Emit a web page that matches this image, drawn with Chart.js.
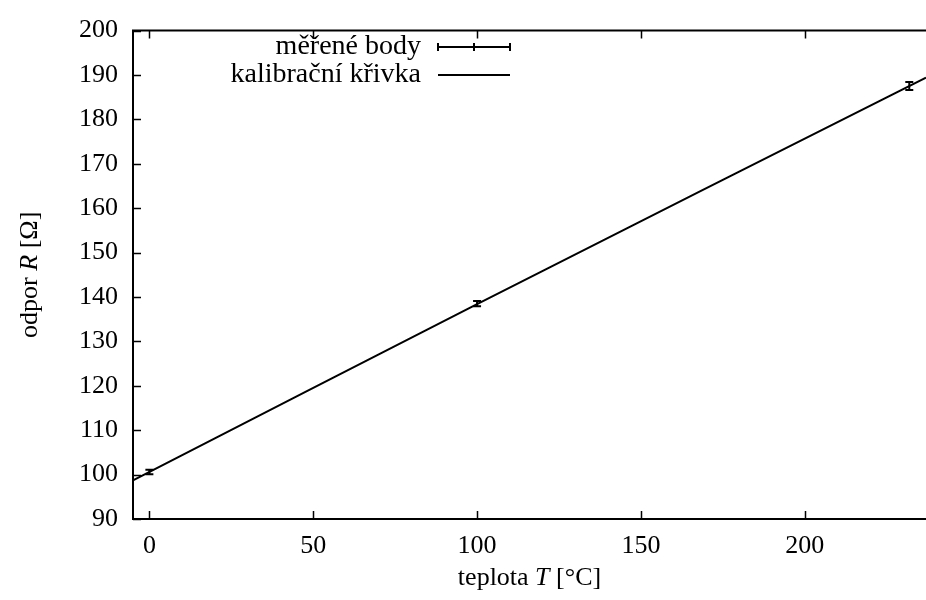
<!DOCTYPE html>
<html>
<head>
<meta charset="utf-8">
<script src="https://cdn.jsdelivr.net/npm/chart.js@4"></script>
<style>
  body { margin: 0; background: #fff; }
  #wrap { width: 926px; height: 600px; }
</style>
</head>
<body>
<div id="wrap"><canvas id="chart" width="926" height="600"></canvas></div>
<script>
// measured points (T in °C, R in ohm) and y error
const tempC = [0, 100, 231.9];
const resistance = [100.6, 138.5, 187.5];
const resistanceErr = [0.5, 0.6, 0.9];

// calibration curve
const fitT = [-5, 100, 237];
const fitR = [98.7, 138.4, 189.4];

const xTicks = [0, 50, 100, 150, 200];
const yTicks = [90, 100, 110, 120, 130, 140, 150, 160, 170, 180, 190, 200];

const legendLabels = ["měřené body", "kalibrační křivka"];
// axis titles as [text, italic] pieces
const xTitle = [["teplota ", false], ["T", true], [" [°C]", false]];
const yTitle = [["odpor ", false], ["R", true], [" [Ω]", false]];

const FONT = "'Liberation Serif', 'DejaVu Serif', serif";
const INK = "#000";
const SIZE = 26;

function drawPieces(ctx, pieces, cx, cy) {
    const fonts = pieces.map(p => (p[1] ? "italic " : "") + SIZE + "px " + FONT);
    let total = 0;
    const widths = pieces.map((p, i) => { ctx.font = fonts[i]; const w = ctx.measureText(p[0]).width; total += w; return w; });
    let x = cx - total / 2;
    ctx.textAlign = "left";
    ctx.textBaseline = "middle";
    pieces.forEach((p, i) => { ctx.font = fonts[i]; ctx.fillText(p[0], x, cy); x += widths[i]; });
}

// frame, inward ticks, error bars, legend, axis titles
const gnuplotLook = {
    id: "gnuplotLook",
    afterDatasetsDraw(chart) {
        const ctx = chart.ctx;
        const a = chart.chartArea;
        const xs = chart.scales.x;
        const ys = chart.scales.y;
        ctx.save();
        ctx.strokeStyle = INK;
        ctx.fillStyle = INK;

        // ticks (right side lies outside the picture)
        const tl = 8;
        ctx.beginPath();
        xTicks.forEach(v => {
            const px = Math.round(xs.getPixelForValue(v)) + 0.5;
            ctx.moveTo(px, a.bottom); ctx.lineTo(px, a.bottom - tl);
            ctx.moveTo(px, a.top); ctx.lineTo(px, a.top + tl);
        });
        yTicks.forEach(v => {
            const py = Math.round(ys.getPixelForValue(v)) + 0.5;
            ctx.moveTo(a.left, py); ctx.lineTo(a.left + tl, py);
        });
        ctx.lineWidth = 1.5;
        ctx.stroke();

        // frame: left, bottom, top
        ctx.lineWidth = 2;
        ctx.beginPath();
        ctx.moveTo(a.right + 2, a.top);
        ctx.lineTo(a.left, a.top);
        ctx.lineTo(a.left, a.bottom);
        ctx.lineTo(a.right + 2, a.bottom);
        ctx.stroke();

        // error bars
        ctx.beginPath();
        tempC.forEach((t, i) => {
            const px = xs.getPixelForValue(t);
            const y1 = ys.getPixelForValue(resistance[i] - resistanceErr[i]);
            const y2 = ys.getPixelForValue(resistance[i] + resistanceErr[i]);
            ctx.moveTo(px, y1); ctx.lineTo(px, y2);
            ctx.moveTo(px - 4, y1); ctx.lineTo(px + 4, y1);
            ctx.moveTo(px - 4, y2); ctx.lineTo(px + 4, y2);
        });
        ctx.stroke();

        // legend
        ctx.font = "28px " + FONT;
        ctx.textAlign = "right";
        ctx.textBaseline = "middle";
        const rows = [47, 75];
        const textRight = 421, s0 = 438, s1 = 510;
        legendLabels.forEach((lab, i) => ctx.fillText(lab, textRight, rows[i]));
        ctx.beginPath();
        ctx.moveTo(s0, rows[0]); ctx.lineTo(s1, rows[0]);
        ctx.moveTo(s0, rows[0] - 4); ctx.lineTo(s0, rows[0] + 4);
        ctx.moveTo(s1, rows[0] - 4); ctx.lineTo(s1, rows[0] + 4);
        ctx.moveTo((s0 + s1) / 2, rows[0] - 4); ctx.lineTo((s0 + s1) / 2, rows[0] + 4);
        ctx.moveTo(s0, rows[1]); ctx.lineTo(s1, rows[1]);
        ctx.stroke();

        // axis titles
        drawPieces(ctx, xTitle, (a.left + a.right) / 2, 578);
        ctx.save();
        ctx.translate(30, (a.top + a.bottom) / 2);
        ctx.rotate(-Math.PI / 2);
        drawPieces(ctx, yTitle, 0, 0);
        ctx.restore();
        ctx.restore();
    }
};

new Chart(document.getElementById("chart"), {
    type: "scatter",
    data: {
        datasets: [
            {
                label: legendLabels[1],
                data: fitT.map((t, i) => ({ x: t, y: fitR[i] })),
                showLine: true,
                borderColor: INK,
                borderWidth: 2,
                pointRadius: 0,
                tension: 0.4
            },
            {
                label: legendLabels[0],
                data: tempC.map((t, i) => ({ x: t, y: resistance[i] })),
                pointRadius: 0,
                borderColor: INK
            }
        ]
    },
    options: {
        responsive: false,
        animation: false,
        layout: { padding: { top: 26, right: 0, left: 0, bottom: 0 } },
        plugins: { legend: { display: false }, tooltip: { enabled: false } },
        scales: {
            x: {
                type: "linear",
                min: -5,
                max: 237,
                afterBuildTicks: s => { s.ticks = xTicks.map(v => ({ value: v })); },
                afterFit: s => { s.height = 81; },
                grid: { display: false, drawTicks: false },
                border: { display: false },
                ticks: { color: INK, padding: 12, font: { family: FONT, size: SIZE } }
            },
            y: {
                type: "linear",
                min: 90,
                max: 200,
                afterBuildTicks: s => { s.ticks = yTicks.map(v => ({ value: v })); },
                afterFit: s => { s.width = 133; },
                grid: { display: false, drawTicks: false },
                border: { display: false },
                ticks: { color: INK, padding: 15, font: { family: FONT, size: SIZE } }
            }
        }
    },
    plugins: [gnuplotLook]
});
</script>
</body>
</html>
